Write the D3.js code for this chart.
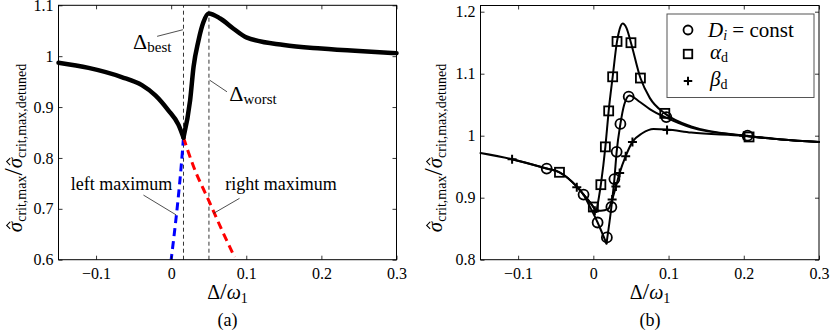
<!DOCTYPE html>
<html>
<head>
<meta charset="utf-8">
<script src="https://cdn.jsdelivr.net/npm/d3@7"></script>
<style>
  body { margin: 0; background: #fff; }
</style>
</head>
<body>
<svg id="chart" width="830" height="333"></svg>
<script>
// ---------- panel (a) data ----------
// thick black curve, split at the cusp (minimum)
const aMainLeft = [[-0.15,0.987],[-0.11,0.977],[-0.066,0.959],[-0.039,0.943],[-0.021,0.923],
  [-0.004,0.894],[0.0098,0.865],[0.0164,0.84]];
const aMainRight = [[0.0164,0.84],[0.0253,0.914],[0.0298,0.979],[0.0364,1.031],[0.043,1.067],
  [0.0498,1.084],[0.0653,1.074],[0.083,1.054],[0.1,1.037],[0.15,1.022],[0.2,1.015],[0.25,1.01],[0.3,1.006]];
// dashed continuations
const aLeftMax = [[0.0164,0.84],[0.0129,0.776],[0.0067,0.684],[0.0,0.6]];
const aRightMax = [[0.0164,0.84],[0.0298,0.783],[0.0498,0.717],[0.0676,0.658],[0.0845,0.605]];
const deltaBest = 0.0164;
const deltaWorst = 0.0503;

// ---------- panel (b) data ----------
const bBase = [[-0.15,0.972],[-0.108,0.962],[-0.062,0.947],[-0.045,0.941],[-0.022,0.918],[-0.013,0.905]];
const circLeft = [[-0.013,0.905],[0.0057,0.86],[0.0175,0.826]];
const circRight = [[0.0175,0.826],[0.024,0.885],[0.028,0.93],[0.031,0.974],[0.036,1.019],[0.041,1.05],
  [0.048,1.065],[0.06,1.056],[0.075,1.043],[0.097,1.029],[0.13,1.013],[0.2,1.0],[0.25,0.994],[0.3,0.99]];
const sqLeft = [[-0.013,0.905],[0.0,0.885],[0.004,0.877]];
const sqRight = [[0.004,0.877],[0.01,0.921],[0.016,0.982],[0.0204,1.04],[0.0257,1.095],[0.0315,1.152],
  [0.035,1.172],[0.039,1.181],[0.044,1.174],[0.05,1.15],[0.0626,1.093],[0.075,1.061],[0.095,1.036],
  [0.13,1.015],[0.2,1.0],[0.25,0.994],[0.3,0.99]];
const plusCurve = [[-0.013,0.905],[0.0,0.885],[0.003,0.879],[0.01,0.879],[0.02,0.882],[0.025,0.897],
  [0.03,0.918],[0.035,0.94],[0.043,0.967],[0.052,0.99],[0.065,1.004],[0.08,1.011],[0.098,1.01],
  [0.13,1.005],[0.2,1.0],[0.25,0.994],[0.3,0.99]];

const circMarks = [[-0.062,0.947],[-0.013,0.905],[0.0057,0.86],[0.018,0.836],[0.024,0.885],[0.028,0.93],
  [0.031,0.974],[0.036,1.019],[0.047,1.063],[0.097,1.03],[0.205,1.0]];
const sqMarks = [[-0.045,0.941],[0.0,0.885],[0.01,0.921],[0.016,0.982],[0.0204,1.04],[0.0257,1.095],
  [0.0315,1.152],[0.05,1.15],[0.0626,1.093],[0.095,1.036],[0.207,0.998]];
const plusMarks = [[-0.108,0.962],[-0.022,0.917],[0.002,0.879],[0.025,0.897],[0.03,0.918],[0.035,0.94],
  [0.043,0.967],[0.052,0.99],[0.098,1.009],[0.2,1.0]];

// ---------- ticks ----------
const xTicks = [-0.1, 0, 0.1, 0.2, 0.3];
const aYTicks = [0.6, 0.7, 0.8, 0.9, 1, 1.1];
const bYTicks = [0.8, 0.9, 1, 1.1, 1.2];

const FONT = "'Liberation Serif', 'DejaVu Serif', serif";
const svg = d3.select('#chart');
const fmt = d3.format('~g');

// draws box, inside ticks on all four sides and tick labels
function drawFrame(x, y, xt, yt) {
  const [x0, x1] = x.range();
  const [y0, y1] = y.range();
  const g = svg.append('g');

  const style = sel => {
    sel.attr('font-family', FONT);
    sel.select('.domain').remove();
    sel.selectAll('.tick line').attr('stroke', '#000').attr('stroke-width', 0.8);
    sel.selectAll('.tick text').attr('font-size', 16).attr('font-family', FONT).attr('fill', '#000');
  };

  g.append('g').attr('transform', `translate(0,${y0})`)
    .call(d3.axisBottom(x).tickValues(xt).tickSize(-4).tickPadding(8).tickFormat(fmt)).call(style);
  g.append('g').attr('transform', `translate(0,${y1})`)
    .call(d3.axisTop(x).tickValues(xt).tickSize(-4).tickFormat('')).call(style);
  g.append('g').attr('transform', `translate(${x0},0)`)
    .call(d3.axisLeft(y).tickValues(yt).tickSize(-4).tickPadding(5).tickFormat(fmt)).call(style);
  g.append('g').attr('transform', `translate(${x1},0)`)
    .call(d3.axisRight(y).tickValues(yt).tickSize(-4).tickFormat('')).call(style);

  g.append('rect')
    .attr('x', x0).attr('y', y1)
    .attr('width', x1 - x0).attr('height', y0 - y1)
    .attr('fill', 'none').attr('stroke', '#000').attr('stroke-width', 1);
}

// y label: sigma-hat_crit,max / sigma-hat_crit,max,detuned (hats drawn as small chevrons)
function yLabel(cx, cy) {
  const g = svg.append('g').attr('transform', `translate(${cx},${cy}) rotate(-90)`);
  const t = g.append('text').attr('text-anchor', 'middle').attr('font-family', FONT);
  t.append('tspan').attr('font-size', 21).attr('font-style', 'italic').text('\u03C3');
  t.append('tspan').attr('font-size', 14).attr('dy', 4).text('crit,max');
  t.append('tspan').attr('font-size', 26).attr('dy', -4).text('/');
  t.append('tspan').attr('font-size', 21).attr('font-style', 'italic').text('\u03C3');
  t.append('tspan').attr('font-size', 14).attr('dy', 4).text('crit,max,detuned');
  const node = t.node();
  [0, 10].forEach(i => {
    const b = node.getExtentOfChar(i);
    const mx = b.x + b.width / 2 + 1.5;
    const top = b.y + b.height * 0.3;
    g.append('path')
      .attr('d', `M${mx - 3.5},${top}L${mx},${top - 3.5}L${mx + 3.5},${top}`)
      .attr('fill', 'none').attr('stroke', '#000').attr('stroke-width', 1.1);
  });
}

function xLabel(cx, tag) {
  const t = svg.append('text').attr('x', cx).attr('y', 299).attr('text-anchor', 'middle')
    .attr('font-family', FONT);
  t.append('tspan').attr('font-size', 20).text('\u0394');
  t.append('tspan').attr('font-size', 24).text('/');
  t.append('tspan').attr('font-size', 20).attr('font-style', 'italic').text('\u03C9');
  t.append('tspan').attr('font-size', 14).attr('dy', 4).text('1');
  svg.append('text').attr('x', cx).attr('y', 326).attr('text-anchor', 'middle')
    .attr('font-family', FONT).attr('font-size', 18).text(tag);
}

// ================= panel (a) =================
const xa = d3.scaleLinear().domain([-0.15, 0.3]).range([58.5, 396.5]);
const ya = d3.scaleLinear().domain([0.6, 1.1]).range([259.7, 5.3]);
const lineA = d3.line().x(d => xa(d[0])).y(d => ya(d[1])).curve(d3.curveMonotoneX);
const lineAy = d3.line().x(d => xa(d[0])).y(d => ya(d[1])).curve(d3.curveMonotoneY);

// vertical reference lines
[deltaBest, deltaWorst].forEach(v => {
  svg.append('line')
    .attr('x1', xa(v)).attr('x2', xa(v))
    .attr('y1', ya.range()[0]).attr('y2', ya.range()[1])
    .attr('stroke', '#000').attr('stroke-width', 0.8).attr('stroke-dasharray', '4,3');
});

svg.append('path').datum(aLeftMax).attr('d', lineAy)
  .attr('fill', 'none').attr('stroke', '#0000ff').attr('stroke-width', 3).attr('stroke-dasharray', '8,5');
svg.append('path').datum(aRightMax).attr('d', lineA)
  .attr('fill', 'none').attr('stroke', '#ff0000').attr('stroke-width', 3).attr('stroke-dasharray', '8,5');

[aMainLeft, aMainRight].forEach(seg => {
  svg.append('path').datum(seg).attr('d', lineA)
    .attr('fill', 'none').attr('stroke', '#000').attr('stroke-width', 4.5)
    .attr('stroke-linecap', 'round').attr('stroke-linejoin', 'round');
});

drawFrame(xa, ya, xTicks, aYTicks);

// annotations (data coordinates)
const aNotes = [
  { text: '\u0394', sub: 'best', at: [-0.0507, 1.014], from: [-0.0187, 1.039], to: [0.0156, 1.052] },
  { text: '\u0394', sub: 'worst', at: [0.0773, 0.912], from: [0.0743, 0.930], to: [0.0511, 0.953] },
  { text: 'left maximum', at: [-0.1337, 0.737], from: [-0.0369, 0.727], to: [0.0067, 0.688] },
  { text: 'right maximum', at: [0.072, 0.737], from: [0.091, 0.7206], to: [0.0564, 0.691] }
];
aNotes.forEach(n => {
  const t = svg.append('text').attr('x', xa(n.at[0])).attr('y', ya(n.at[1])).attr('font-family', FONT);
  if (n.sub) {
    t.append('tspan').attr('font-size', 22).text(n.text);
    t.append('tspan').attr('font-size', 15).attr('dy', 3).text(n.sub);
  } else {
    t.attr('font-size', 18).text(n.text);
  }
  svg.append('line')
    .attr('x1', xa(n.from[0])).attr('y1', ya(n.from[1]))
    .attr('x2', xa(n.to[0])).attr('y2', ya(n.to[1]))
    .attr('stroke', '#222').attr('stroke-width', 0.8);
});

yLabel(22, 148);
xLabel(227.5, '(a)');

// ================= panel (b) =================
const xb = d3.scaleLinear().domain([-0.15, 0.3]).range([480.5, 819]);
const yb = d3.scaleLinear().domain([0.8, 1.21]).range([259.7, 5.5]);
const lineB = d3.line().x(d => xb(d[0])).y(d => yb(d[1])).curve(d3.curveMonotoneX);

const bCurves = [bBase, circLeft, circRight, sqLeft, sqRight, plusCurve, bBase.slice(1)];
bCurves.forEach(c => {
  svg.append('path').datum(c).attr('d', lineB)
    .attr('fill', 'none').attr('stroke', '#000').attr('stroke-width', 2)
    .attr('stroke-linejoin', 'round').attr('stroke-linecap', 'round');
});

function drawCircle(g, cx, cy, r) {
  g.append('circle').attr('cx', cx).attr('cy', cy).attr('r', r)
    .attr('fill', 'none').attr('stroke', '#000').attr('stroke-width', 1.8);
}
function drawSquare(g, cx, cy, s) {
  g.append('rect').attr('x', cx - s / 2).attr('y', cy - s / 2).attr('width', s).attr('height', s)
    .attr('fill', 'none').attr('stroke', '#000').attr('stroke-width', 1.8);
}
function drawPlus(g, cx, cy, s) {
  g.append('path').attr('d', `M${cx - s / 2},${cy}H${cx + s / 2}M${cx},${cy - s / 2}V${cy + s / 2}`)
    .attr('stroke', '#000').attr('stroke-width', 2);
}

const marks = svg.append('g');
circMarks.forEach(d => drawCircle(marks, xb(d[0]), yb(d[1]), 5));
sqMarks.forEach(d => drawSquare(marks, xb(d[0]), yb(d[1]), 9));
plusMarks.forEach(d => drawPlus(marks, xb(d[0]), yb(d[1]), 9));

drawFrame(xb, yb, xTicks, bYTicks);

// legend
const lg = svg.append('g').attr('font-family', FONT);
lg.append('rect').attr('x', 667).attr('y', 14).attr('width', 147).attr('height', 83.5)
  .attr('fill', '#fff').attr('stroke', '#555').attr('stroke-width', 1);
const legendRows = [
  { kind: 'circle', y: 30 },
  { kind: 'square', y: 54 },
  { kind: 'plus', y: 81 }
];
legendRows.forEach(r => {
  if (r.kind === 'circle') drawCircle(lg, 688, r.y, 4.5);
  if (r.kind === 'square') drawSquare(lg, 688, r.y, 8.5);
  if (r.kind === 'plus') drawPlus(lg, 688, r.y, 8.5);
});
const l1 = lg.append('text').attr('x', 708).attr('y', 37);
l1.append('tspan').attr('font-size', 21).attr('font-style', 'italic').text('D');
l1.append('tspan').attr('font-size', 14).attr('font-style', 'italic').attr('dy', 3).text('i');
l1.append('tspan').attr('font-size', 21).attr('dy', -3).text(' = const');
const l2 = lg.append('text').attr('x', 710).attr('y', 59);
l2.append('tspan').attr('font-size', 21).attr('font-style', 'italic').text('\u03B1');
l2.append('tspan').attr('font-size', 14).attr('dy', 3).text('d');
const l3 = lg.append('text').attr('x', 710).attr('y', 86);
l3.append('tspan').attr('font-size', 21).attr('font-style', 'italic').text('\u03B2');
l3.append('tspan').attr('font-size', 14).attr('dy', 3).text('d');

yLabel(442, 148);
xLabel(650, '(b)');
</script>
</body>
</html>
